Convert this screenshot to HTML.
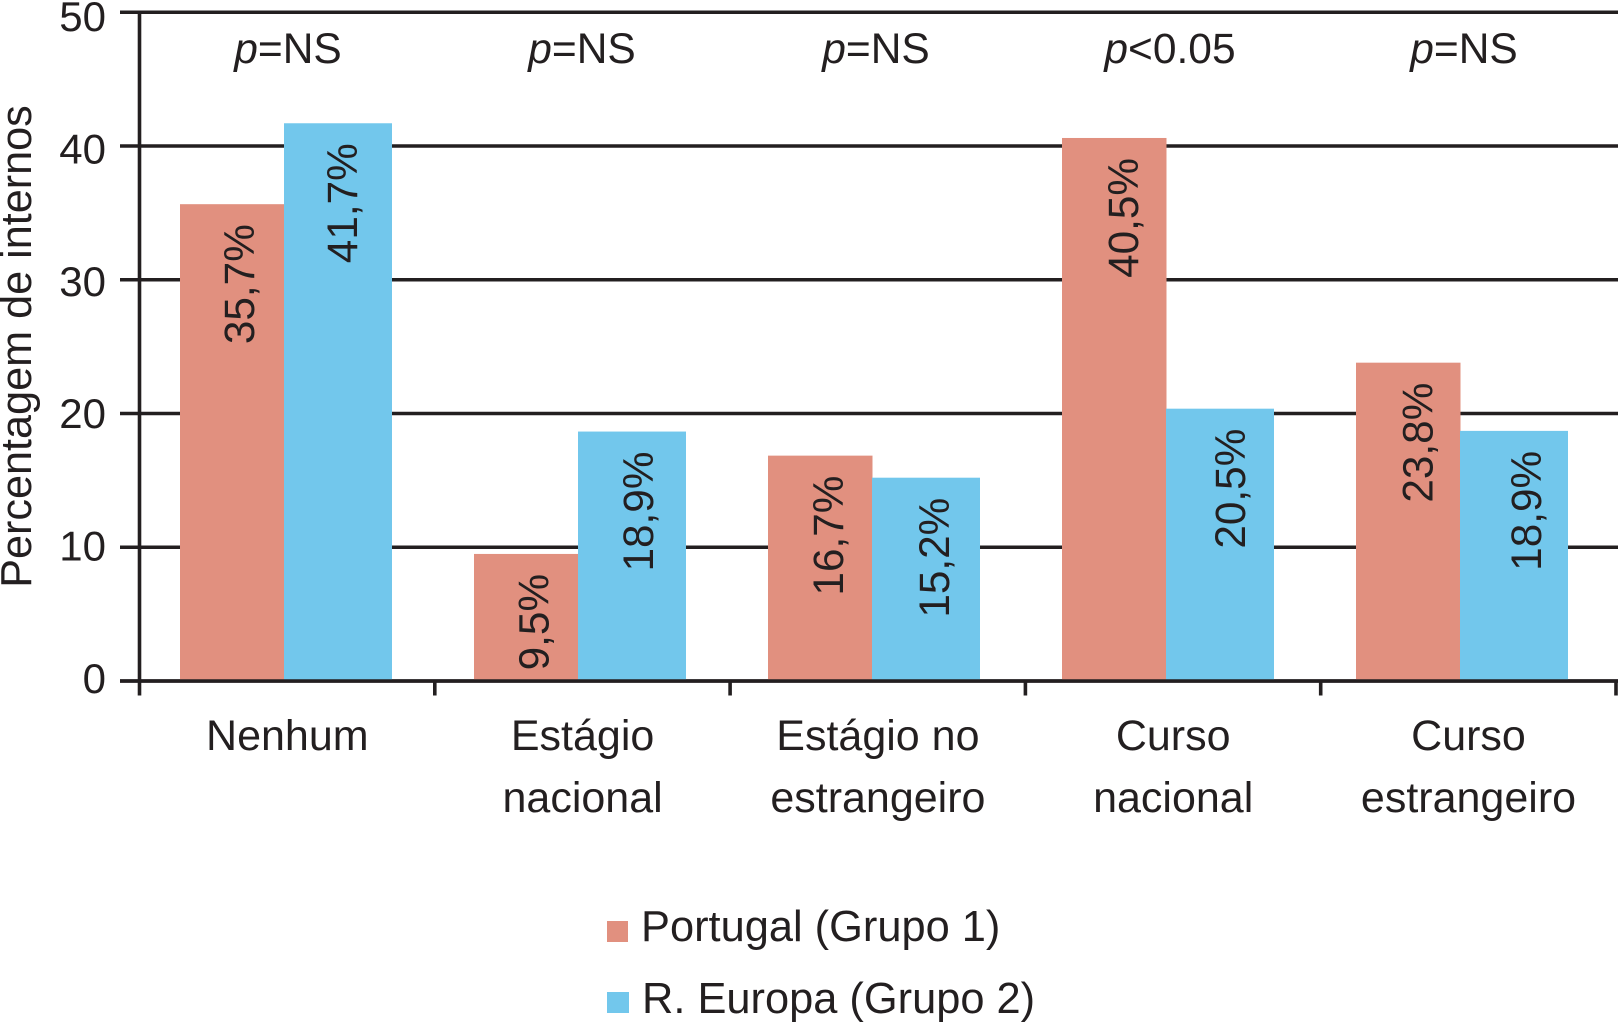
<!DOCTYPE html>
<html lang="pt">
<head>
<meta charset="utf-8">
<title>Percentagem de internos</title>
<style>
html,body{margin:0;padding:0;background:#fff;width:1618px;height:1022px;overflow:hidden}
svg{display:block}
text{font-family:"Liberation Sans",sans-serif;fill:#231f20}
</style>
</head>
<body>
<svg id="chart" xmlns="http://www.w3.org/2000/svg" width="1618" height="1022" viewBox="0 0 1618 1022">
  <rect width="1618" height="1022" fill="#fff"/>
  <g id="grid"></g>
  <g id="bars"></g>
  <g id="axes"></g>
  <g id="labels"></g>
  <text transform="translate(31 346.5) rotate(-90)" text-anchor="middle" font-size="43.2">Percentagem de internos</text>
  <g>
    <rect x="607" y="921" width="21" height="21" fill="#e1907f"/>
    <text x="641" y="941" font-size="43.4">Portugal (Grupo 1)</text>
    <rect x="607" y="992" width="22" height="21" fill="#72c7ec"/>
    <text x="642" y="1013" font-size="43.4">R. Europa (Grupo 2)</text>
  </g>
</svg>
<script>
const categoryLines = [["Nenhum"], ["Estágio", "nacional"], ["Estágio no", "estrangeiro"], ["Curso", "nacional"], ["Curso", "estrangeiro"]];
const portugalValues = [35.65, 9.5, 16.85, 40.6, 23.8];
const europaValues = [41.7, 18.65, 15.2, 20.36, 18.7];
const portugalPrinted = ["35,7%", "9,5%", "16,7%", "40,5%", "23,8%"];
const europaPrinted = ["41,7%", "18,9%", "15,2%", "20,5%", "18,9%"];
const significance = ["=NS", "=NS", "=NS", "<0.05", "=NS"];
const yTicks = [0, 10, 20, 30, 40, 50];

const NS = "http://www.w3.org/2000/svg";
const INK = "#231f20";
const y0 = 681, yUnit = 13.375;
const yScale = v => y0 - v * yUnit;
const yLabelBaseline = v => 693 - v * 13.24;
const bandStart = i => 180 + 294 * i;
const tickX = i => 139.5 + 295.3 * i;
const categoryCenter = i => tickX(i) + 147.8;
const pinkLabelX = i => 254 + 294.6 * i;
const blueLabelX = i => 357 + 296 * i;

function make(tag, parent, props) {
  const el = document.createElementNS(NS, tag);
  for (const k in props) el.setAttribute(k, props[k]);
  parent.appendChild(el);
  return el;
}
const gGrid = document.getElementById("grid");
const gBars = document.getElementById("bars");
const gAxes = document.getElementById("axes");
const gLabels = document.getElementById("labels");

yTicks.forEach(t => {
  const line = make("line", gGrid, {x1: 120, x2: 1618, y1: yScale(t), y2: yScale(t), stroke: INK, "stroke-width": 3.6});
  
  
  const lab = make("text", gLabels, {x: 106, y: yLabelBaseline(t), "text-anchor": "end", "font-size": 42});
  lab.textContent = t;
  
  
});

function drawBar(value, printed, x, w, fill, textX, seriesName, i) {
  const top = yScale(value);
  const rect = make("rect", gBars, {x: x, y: top, width: w, height: y0 - top, fill: fill});
  
  
  const lab = make("text", gLabels, {transform: "translate(" + textX + " " + (top + 20) + ") rotate(-90)", "text-anchor": "end", "font-size": 42.3});
  lab.textContent = printed;
  
  
}

categoryLines.forEach((lines, i) => {
  const x = bandStart(i);
  drawBar(portugalValues[i], portugalPrinted[i], x, 104.5, "#e1907f", pinkLabelX(i), "portugal", i);
  drawBar(europaValues[i], europaPrinted[i], x + 104, 108, "#72c7ec", blueLabelX(i), "europa", i);

  const p = make("text", gLabels, {x: x + 108, y: 63, "text-anchor": "middle", "font-size": 42.5});
  
  
  const ital = make("tspan", p, {"font-style": "italic"});
  ital.textContent = "p";
  const rest = make("tspan", p, {});
  rest.textContent = significance[i];

  lines.forEach((ln, j) => {
    const c = make("text", gLabels, {x: categoryCenter(i), y: 750 + 62 * j, "text-anchor": "middle", "font-size": 43});
    c.textContent = ln;
    
    
  });
});

const yAxis = make("line", gAxes, {x1: 139.5, x2: 139.5, y1: 12, y2: 695.5, stroke: INK, "stroke-width": 3.6});


const xAxis = make("line", gAxes, {x1: 120, x2: 1618, y1: y0, y2: y0, stroke: INK, "stroke-width": 3.6});


for (let i = 1; i <= categoryLines.length; i++) {
  const tick = make("line", gAxes, {x1: tickX(i), x2: tickX(i), y1: y0, y2: 695.5, stroke: INK, "stroke-width": 3.6});
  
  
}
</script>
</body>
</html>
